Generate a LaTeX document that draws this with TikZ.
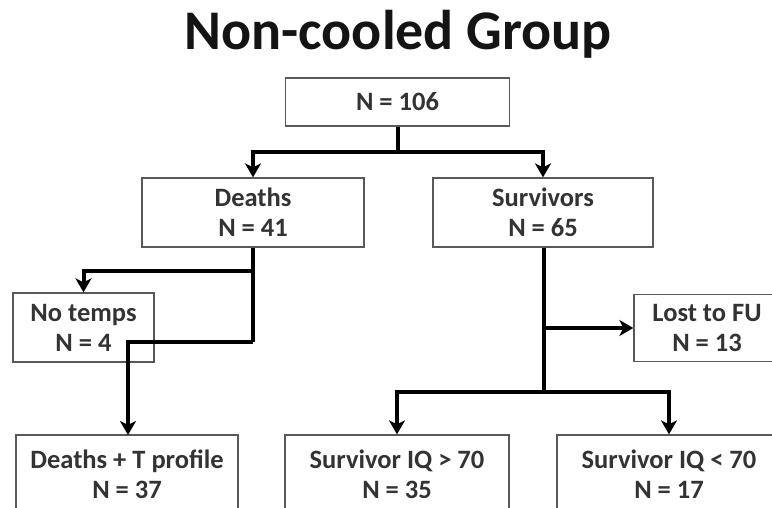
\documentclass[tikz,border=0pt]{standalone}
\usepackage{fontspec}
\setmainfont{Carlito}
\usetikzlibrary{arrows.meta}
\begin{document}
\begin{tikzpicture}[x=1pt,y=-1pt,
  box/.style={draw=black!65, line width=1.3pt, fill=white, text=black!80,
    font=\fontsize{26.5}{30}\selectfont\bfseries, align=center, inner sep=0pt},
  conn/.style={line width=4pt, black, line join=miter},
  arr/.style={conn, -{Stealth[length=14pt,width=16pt,inset=4pt]}}]
\useasboundingbox (0,0) rectangle (772,508);
\clip (0,0) rectangle (772,508);
\fill[white] (0,0) rectangle (772,508);
\node[font=\fontsize{56}{60}\selectfont\bfseries, text=black!92, anchor=base, inner sep=0pt] (title) at (398,50) {Non-cooled Group};
\node[box, minimum width=224pt, minimum height=48pt] (top) at (397.5,102) {N = 106};
\node[box, minimum width=222pt, minimum height=69pt] (deaths) at (253,212.5) {Deaths\\N = 41};
\node[box, minimum width=220pt, minimum height=69pt] (surv) at (543,212.5) {Survivors\\N = 65};
\node[box, minimum width=141pt, minimum height=69pt] (notemps) at (83.5,327.5) {No temps\\N = 4};
\node[box, minimum width=146pt, minimum height=67pt] (lost) at (707,328) {Lost to FU\\N = 13};
\node[box, minimum width=222pt, minimum height=78pt] (dtp) at (127,474) {Deaths + T profile\\N = 37};
\node[box, minimum width=224pt, minimum height=78pt] (iqgt) at (397,474) {Survivor IQ > 70\\N = 35};
\node[box, minimum width=224pt, minimum height=78pt] (iqlt) at (669,474) {Survivor IQ < 70\\N = 17};
% top split
\coordinate (s1) at (397.5,152);
\draw[conn] (top.south) -- (s1);
\draw[arr] (s1) -| (deaths.north);
\draw[arr] (s1) -| (surv.north);
% deaths branch
\coordinate (d1) at (253,271);
\coordinate (d2) at (253,342);
\draw[conn] (deaths.south) -- (d2);
\draw[arr] (d1) -| (notemps.north);
\draw[arr] (d2) -| (128,435);
% survivors branch
\coordinate (v1) at (543.5,328);
\coordinate (v2) at (543.5,392);
\draw[conn] (surv.south -| v1) -- (v2);
\draw[arr] (v1) -- (lost.west);
\draw[arr] (v2) -| (iqgt.north);
\draw[arr] (v2) -| (iqlt.north);
\end{tikzpicture}
\end{document}
